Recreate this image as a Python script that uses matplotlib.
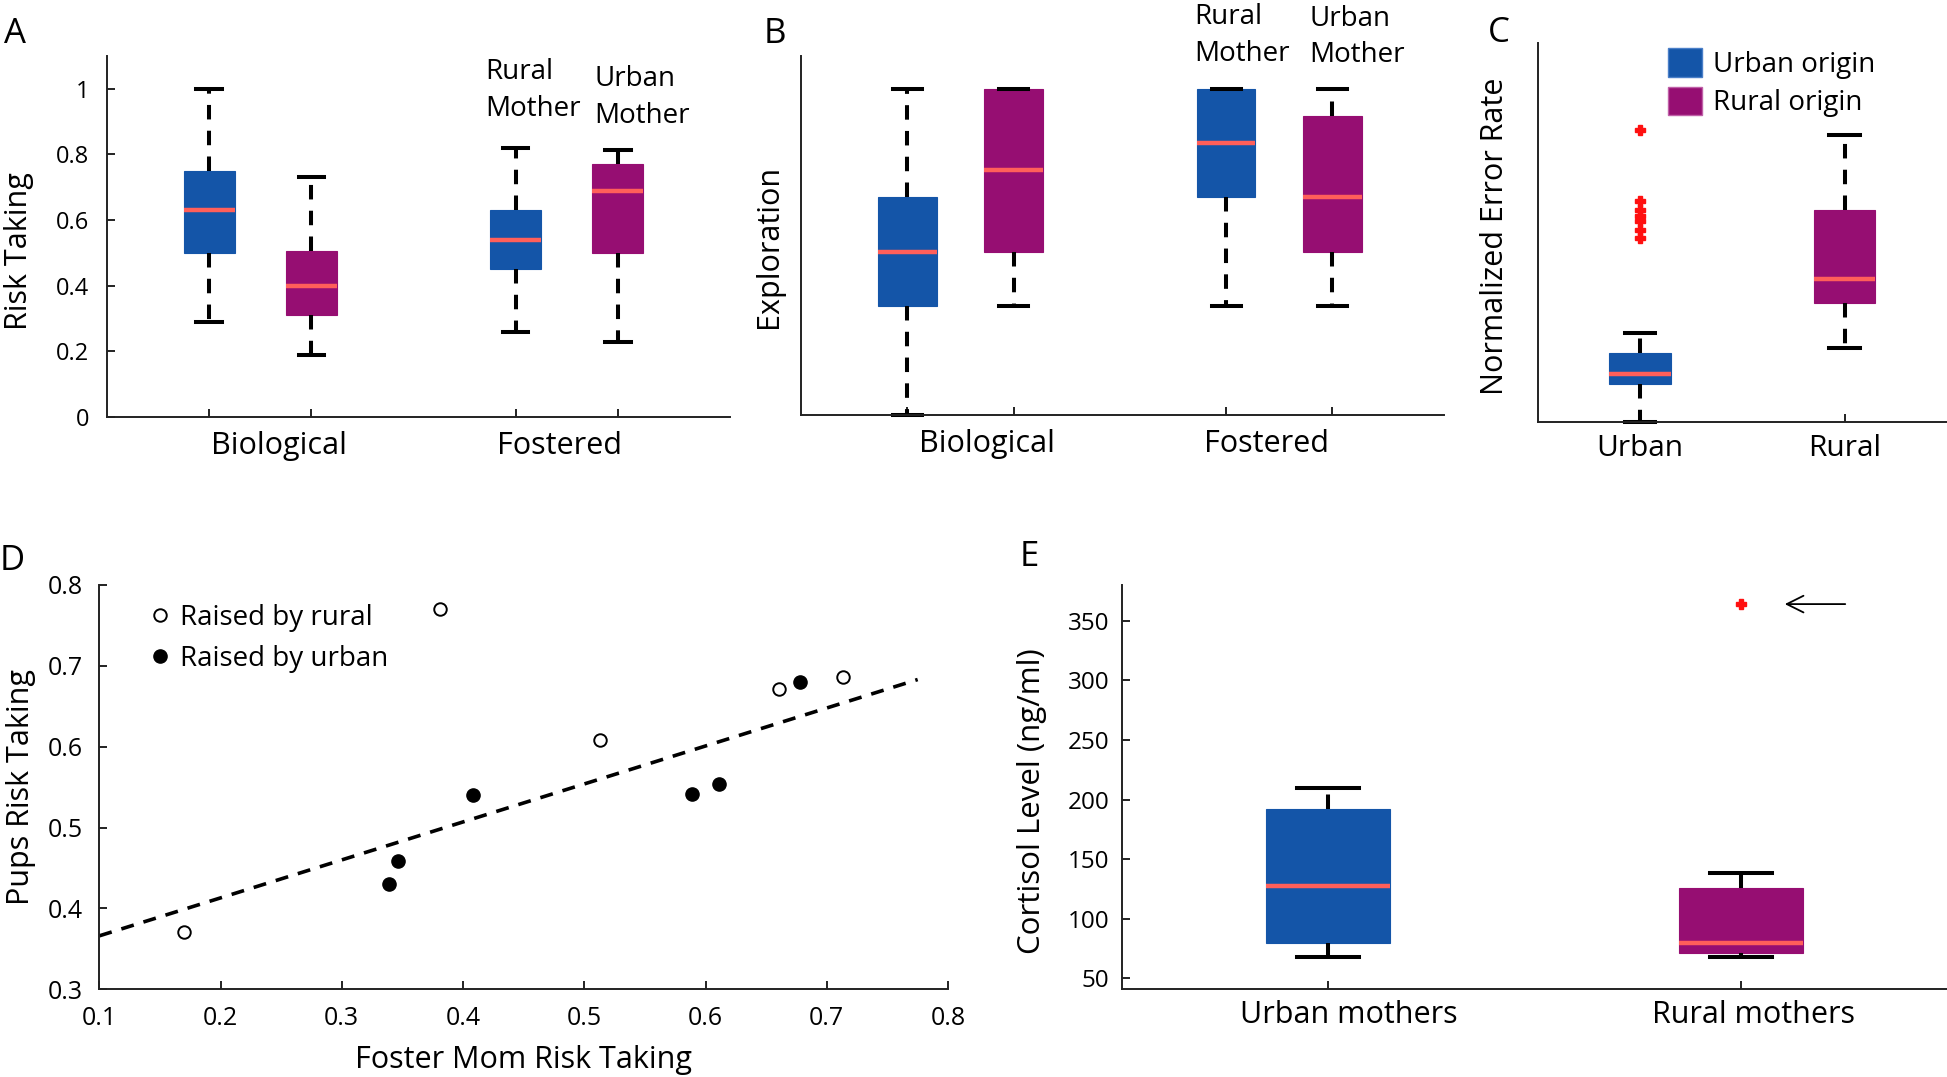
import numpy as np
import matplotlib
matplotlib.use("Agg")
import matplotlib.pyplot as plt
from matplotlib.patches import Patch

plt.rcParams['font.family'] = ['Open Sans', 'DejaVu Sans']
plt.rcParams['axes.linewidth'] = 1.4
plt.rcParams['axes.edgecolor'] = '#222222'

BLUE = '#1455a8'
PURPLE = '#960e72'
MEDIAN = '#ff5f5a'

# ---- panel A : risk taking (biological / fostered) ----
a_whislo = [0.29, 0.19, 0.26, 0.23]
a_q1 = [0.50, 0.31, 0.45, 0.50]
a_med = [0.63, 0.40, 0.54, 0.69]
a_q3 = [0.75, 0.505, 0.63, 0.77]
a_whishi = [1.00, 0.73, 0.82, 0.815]

# ---- panel B : exploration ----
b_whislo = [0.0, 0.333, 0.333, 0.333]
b_q1 = [0.333, 0.50, 0.667, 0.50]
b_med = [0.50, 0.75, 0.833, 0.667]
b_q3 = [0.667, 1.0, 1.0, 0.917]
b_whishi = [1.0, 1.0, 1.0, 1.0]

group_colors = [BLUE, PURPLE, BLUE, PURPLE]
group_labels = ['Biological', 'Fostered']

# ---- panel C : normalized error rate ----
c_categories = ['Urban', 'Rural']
c_whislo = [0.0, 0.194]
c_q1 = [0.099, 0.313]
c_med = [0.126, 0.376]
c_q3 = [0.182, 0.558]
c_whishi = [0.233, 0.756]
c_fliers_urban = [0.771, 0.583, 0.559, 0.544, 0.529, 0.507, 0.485]
c_fliers_rural = []
c_legend = ['Urban origin', 'Rural origin']

# ---- panel D : pups vs foster mom risk taking ----
d_rural_x = [0.170, 0.381, 0.513, 0.661, 0.713]
d_rural_y = [0.371, 0.770, 0.608, 0.671, 0.686]
d_urban_x = [0.339, 0.346, 0.408, 0.589, 0.611, 0.678]
d_urban_y = [0.430, 0.459, 0.540, 0.541, 0.554, 0.680]
d_fit_x = [0.10, 0.775]
d_fit_y = [0.366, 0.683]

# ---- panel E : cortisol ----
e_categories = ['Urban mothers', 'Rural mothers']
e_whislo = [67.5, 68.0]
e_q1 = [79.3, 71.0]
e_med = [127.8, 80.0]
e_q3 = [192.2, 125.5]
e_whishi = [209.5, 138.0]
e_fliers_urban = []
e_fliers_rural = [364.0]

DASH = (0, (3.6, 2.8))


def draw_boxes(ax, whislo, q1, med, q3, whishi, positions, colors, width, fliers=None):
    stats = []
    for i in range(len(med)):
        stats.append(dict(whislo=whislo[i], q1=q1[i], med=med[i], q3=q3[i],
                          whishi=whishi[i], fliers=fliers[i] if fliers else []))
    bp = ax.bxp(stats, positions=positions, widths=width, patch_artist=True,
                whiskerprops=dict(color='k', lw=2.9, linestyle=DASH),
                capprops=dict(color='k', lw=2.9),
                medianprops=dict(color=MEDIAN, lw=3.2),
                flierprops=dict(marker='P', mfc='#ff1010', mec='#ff1010', ms=7.5, ls='none'),
                boxprops=dict(lw=0.8))
    for patch, c in zip(bp['boxes'], colors):
        patch.set_facecolor(c)
        patch.set_edgecolor(c)
    for cap in bp['caps']:
        cap.set_clip_on(False)
    for w in bp['whiskers']:
        w.set_clip_on(False)
    return bp


def clean(ax):
    ax.spines['top'].set_visible(False)
    ax.spines['right'].set_visible(False)
    ax.tick_params(direction='in', length=6, width=1.4, color='#222222')


fig = plt.figure(figsize=(19.47, 10.77), dpi=100)

# ---------------- A ----------------
axA = fig.add_axes([0.0550, 0.6128, 0.3200, 0.3352])
draw_boxes(axA, a_whislo, a_q1, a_med, a_q3, a_whishi, [1, 2, 4, 5], group_colors, 0.5)
axA.set_xlim(0, 6.1)
axA.set_ylim(0, 1.1)
clean(axA)
axA.set_yticks([0, 0.2, 0.4, 0.6, 0.8, 1.0])
axA.set_yticklabels(['0', '0.2', '0.4', '0.6', '0.8', '1'])
axA.tick_params(axis='y', labelsize=17, pad=13)
axA.set_xticks([1, 2, 4, 5])
axA.set_xticklabels(['', '', '', ''])
axA.set_xticks([1.68, 4.43], minor=True)
axA.set_xticklabels(group_labels, minor=True)
axA.tick_params(axis='x', which='minor', length=0, labelsize=22, pad=10)
axA.set_ylabel('Risk Taking', fontsize=22)
axA.yaxis.set_label_coords(-0.117, 0.46)
axA.text(3.70, 1.095, 'Rural\nMother', fontsize=20, ha='left', va='top', linespacing=1.45, clip_on=False)
axA.text(4.77, 1.073, 'Urban\nMother', fontsize=20, ha='left', va='top', linespacing=1.45, clip_on=False)

# ---------------- B ----------------
axB = fig.add_axes([0.4114, 0.6147, 0.3303, 0.3333])
draw_boxes(axB, b_whislo, b_q1, b_med, b_q3, b_whishi, [1, 2, 4, 5], group_colors, 0.55)
axB.set_xlim(0, 6.05)
axB.set_ylim(0, 1.1)
clean(axB)
axB.set_yticks([])
axB.set_xticks([1, 2, 4, 5])
axB.set_xticklabels(['', '', '', ''])
axB.set_xticks([1.75, 4.38], minor=True)
axB.set_xticklabels(group_labels, minor=True)
axB.tick_params(axis='x', which='minor', length=0, labelsize=22, pad=10)
axB.set_ylabel('Exploration', fontsize=22)
axB.yaxis.set_label_coords(-0.026, 0.47)
axB.text(3.70, 1.262, 'Rural\nMother', fontsize=20, ha='left', va='top', linespacing=1.4, clip_on=False)
axB.text(4.78, 1.257, 'Urban\nMother', fontsize=20, ha='left', va='top', linespacing=1.4, clip_on=False)

# ---------------- C ----------------
axC = fig.add_axes([0.7898, 0.6085, 0.2102, 0.3516])
draw_boxes(axC, c_whislo, c_q1, c_med, c_q3, c_whishi, [1, 2], [BLUE, PURPLE], 0.3,
           fliers=[c_fliers_urban, c_fliers_rural])
axC.set_xlim(0.5, 2.5)
axC.set_ylim(0, 1.0)
clean(axC)
axC.set_yticks([])
axC.set_xticks([1, 2])
axC.set_xticklabels(c_categories)
axC.tick_params(axis='x', labelsize=21.5, pad=9)
axC.set_ylabel('Normalized Error Rate', fontsize=22)
axC.yaxis.set_label_coords(-0.068, 0.49)
handles = [Patch(facecolor=BLUE, edgecolor='#4a7fc8'), Patch(facecolor=PURPLE, edgecolor='#c060a8')]
axC.legend(handles, c_legend, loc='upper left', bbox_to_anchor=(0.318, 0.986), frameon=False,
           fontsize=20, handlelength=1.22, handleheight=1.19, labelspacing=0.28,
           handletextpad=0.4, borderpad=0, borderaxespad=0)

# ---------------- D ----------------
axD = fig.add_axes([0.0510, 0.0815, 0.4359, 0.3754])
axD.plot(d_fit_x, d_fit_y, color='k', lw=2.6, linestyle=DASH)
axD.plot(d_rural_x, d_rural_y, 'o', ms=9, mfc='white', mec='k', mew=1.4, ls='none', label='Raised by rural')
axD.plot(d_urban_x, d_urban_y, 'o', ms=9.5, mfc='k', mec='k', ls='none', label='Raised by urban')
axD.set_xlim(0.1, 0.8)
axD.set_ylim(0.3, 0.8)
clean(axD)
xt = [0.1, 0.2, 0.3, 0.4, 0.5, 0.6, 0.7, 0.8]
yt = [0.3, 0.4, 0.5, 0.6, 0.7, 0.8]
axD.set_xticks(xt)
axD.set_xticklabels([f'{v:.1f}' for v in xt])
axD.set_yticks(yt)
axD.set_yticklabels([f'{v:.1f}' for v in yt])
axD.tick_params(axis='y', labelsize=18, pad=11.5)
axD.tick_params(axis='x', labelsize=18, pad=12)
axD.set_xlabel('Foster Mom Risk Taking', fontsize=22, labelpad=10)
axD.set_ylabel('Pups Risk Taking', fontsize=22)
axD.yaxis.set_label_coords(-0.074, 0.5)
axD.legend(loc='upper left', bbox_to_anchor=(0.058, 0.953), frameon=False, fontsize=20,
           handlelength=0.8, handletextpad=0.35, labelspacing=0.46, numpoints=1,
           borderpad=0, borderaxespad=0)

# ---------------- E ----------------
axE = fig.add_axes([0.5763, 0.0817, 0.4237, 0.3751])
draw_boxes(axE, e_whislo, e_q1, e_med, e_q3, e_whishi, [1, 2], [BLUE, PURPLE], 0.3,
           fliers=[e_fliers_urban, e_fliers_rural])
axE.set_xlim(0.5, 2.5)
axE.set_ylim(41, 380)
clean(axE)
axE.set_yticks([50, 100, 150, 200, 250, 300, 350])
axE.tick_params(axis='y', labelsize=17.5, pad=9)
axE.set_xticks([1, 2])
axE.set_xticklabels(['', ''])
axE.set_xticks([1.05, 2.03], minor=True)
axE.set_xticklabels(e_categories, minor=True)
axE.tick_params(axis='x', which='minor', length=0, labelsize=22, pad=8)
axE.set_ylabel('Cortisol Level (ng/ml)', fontsize=22.5)
axE.yaxis.set_label_coords(-0.091, 0.465)
axE.annotate('', xy=(2.10, e_fliers_rural[0]), xytext=(2.26, e_fliers_rural[0]),
             arrowprops=dict(arrowstyle='->', color='k', lw=1.3, mutation_scale=30))

# panel letters
for letter, x, y in [('A', 0.002, 0.960), ('B', 0.3924, 0.960), ('C', 0.7643, 0.961),
                     ('D', 0.0, 0.4708), ('E', 0.5239, 0.4745)]:
    fig.text(x, y, letter, fontsize=25, ha='left', va='baseline')

fig.savefig('out.png', dpi=100, facecolor='white')
